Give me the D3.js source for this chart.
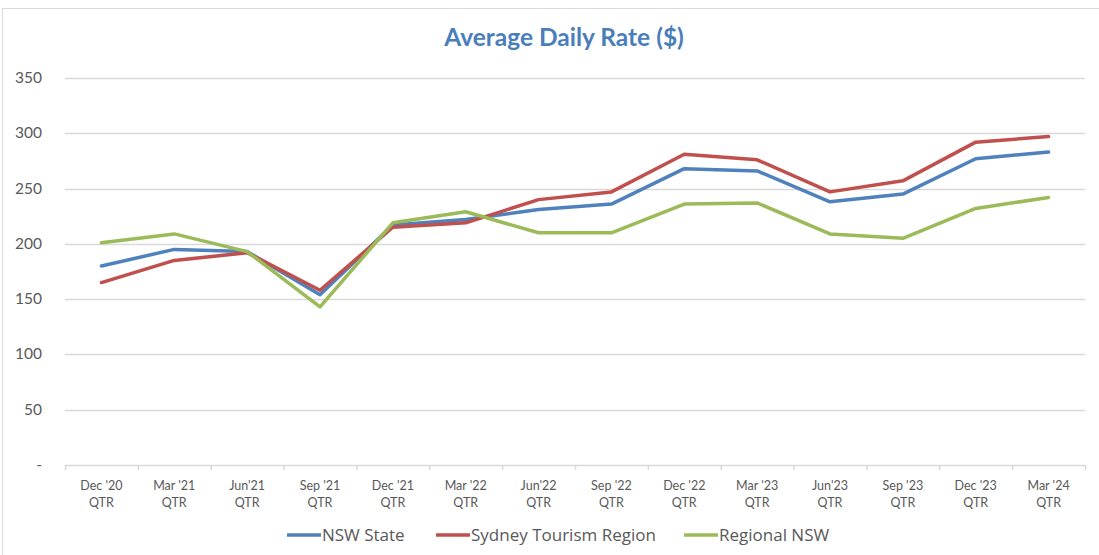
<!DOCTYPE html>
<html>
<head>
<meta charset="utf-8">
<script src="https://cdn.jsdelivr.net/npm/d3@7.9.0/dist/d3.min.js"></script>
<style>
  body { margin: 0; background: #fff; }
  svg { display: block; font-family: Lato, "Open Sans", sans-serif; }
</style>
</head>
<body>
<svg id="chart"></svg>
<script>
const quarters = [
  ["Dec '20", "QTR"], ["Mar '21", "QTR"], ["Jun'21", "QTR"], ["Sep '21", "QTR"],
  ["Dec '21", "QTR"], ["Mar '22", "QTR"], ["Jun'22", "QTR"], ["Sep '22", "QTR"],
  ["Dec '22", "QTR"], ["Mar '23", "QTR"], ["Jun'23", "QTR"], ["Sep '23", "QTR"],
  ["Dec '23", "QTR"], ["Mar '24", "QTR"]
];
const nswState = [180, 195, 193, 154, 217, 222, 231, 236, 268, 266, 238, 245, 277, 283];
const sydney   = [165, 185, 192, 158, 215, 219, 240, 247, 281, 276, 247, 257, 292, 297];
const regional = [201, 209, 193, 143, 219, 229, 210, 210, 236, 237, 209, 205, 232, 242];
const yTicks = [0, 50, 100, 150, 200, 250, 300, 350];

const series = [
  { name: 'NSW State', values: nswState, color: '#4f81bd' },
  { name: 'Sydney Tourism Region', values: sydney, color: '#c0504d' },
  { name: 'Regional NSW', values: regional, color: '#9bbb59' }
];

const W = 1099, H = 555;
const svg = d3.select('#chart').attr('width', W).attr('height', H);

// chart frame
svg.append('rect')
  .attr('x', 2.5).attr('y', 8.5).attr('width', W + 10).attr('height', H + 10)
  .attr('fill', 'none').attr('stroke', '#d9d9d9');

svg.append('text')
  .attr('x', 564).attr('y', 46)
  .attr('text-anchor', 'middle')
  .attr('font-size', 24.5).attr('font-weight', 'bold')
  .attr('fill', '#4a7ebb')
  .text('Average Daily Rate ($)');

const plotLeft = 65, plotRight = 1085, plotTop = 78, plotBottom = 465;

const x = d3.scaleBand()
  .domain(d3.range(quarters.length))
  .range([plotLeft, plotRight]);

const y = d3.scaleLinear()
  .domain([0, 350])
  .range([plotBottom, plotTop]);

// gridlines
svg.append('g')
  .selectAll('line')
  .data(yTicks.filter(d => d > 0))
  .join('line')
  .attr('x1', plotLeft).attr('x2', plotRight)
  .attr('y1', d => Math.round(y(d)) + 0.5).attr('y2', d => Math.round(y(d)) + 0.5)
  .attr('stroke', '#d9d9d9').attr('stroke-width', 1.5);

// y axis labels
svg.append('g')
  .selectAll('text')
  .data(yTicks)
  .join('text')
  .attr('x', 42)
  .attr('y', d => y(d) + 5)
  .attr('text-anchor', 'end')
  .attr('font-size', 15.5)
  .attr('fill', '#595959')
  .text(d => d === 0 ? '-' : d);

// x axis line and ticks
const xAxis = svg.append('g');
xAxis.append('line')
  .attr('x1', plotLeft).attr('x2', plotRight)
  .attr('y1', plotBottom + 0.5).attr('y2', plotBottom + 0.5)
  .attr('stroke', '#d9d9d9').attr('stroke-width', 1.5);
xAxis.selectAll('.tick')
  .data(d3.range(quarters.length + 1))
  .join('line')
  .attr('class', 'tick')
  .attr('x1', i => (i < quarters.length ? x(i) : plotRight) + 0.5)
  .attr('x2', i => (i < quarters.length ? x(i) : plotRight) + 0.5)
  .attr('y1', plotBottom).attr('y2', plotBottom + 5)
  .attr('stroke', '#d9d9d9').attr('stroke-width', 1.5);

const labels = xAxis.selectAll('.lbl')
  .data(quarters)
  .join('text')
  .attr('class', 'lbl')
  .attr('text-anchor', 'middle')
  .attr('font-size', 12.5)
  .attr('fill', '#595959');
labels.append('tspan')
  .attr('x', (d, i) => x(i) + x.bandwidth() / 2)
  .attr('y', 490)
  .text(d => d[0]);
labels.append('tspan')
  .attr('x', (d, i) => x(i) + x.bandwidth() / 2)
  .attr('y', 507)
  .text(d => d[1]);

// lines
const line = d3.line()
  .x((d, i) => x(i) + x.bandwidth() / 2)
  .y(d => y(d));

svg.append('g')
  .selectAll('path')
  .data(series)
  .join('path')
  .attr('d', d => line(d.values))
  .attr('fill', 'none')
  .attr('stroke', d => d.color)
  .attr('stroke-width', 3.5)
  .attr('stroke-linejoin', 'round')
  .attr('stroke-linecap', 'round');

// legend
const legendX = [287, 436, 684];
const legend = svg.append('g')
  .selectAll('g')
  .data(series)
  .join('g')
  .attr('transform', (d, i) => `translate(${legendX[i]},535)`);
legend.append('line')
  .attr('x1', 0).attr('x2', 34)
  .attr('stroke', d => d.color).attr('stroke-width', 3.5);
legend.append('text')
  .attr('x', 35).attr('y', 6)
  .attr('font-family', '"Open Sans", sans-serif')
  .attr('font-size', 17)
  .attr('fill', '#595959')
  .text(d => d.name);
</script>
</body>
</html>
